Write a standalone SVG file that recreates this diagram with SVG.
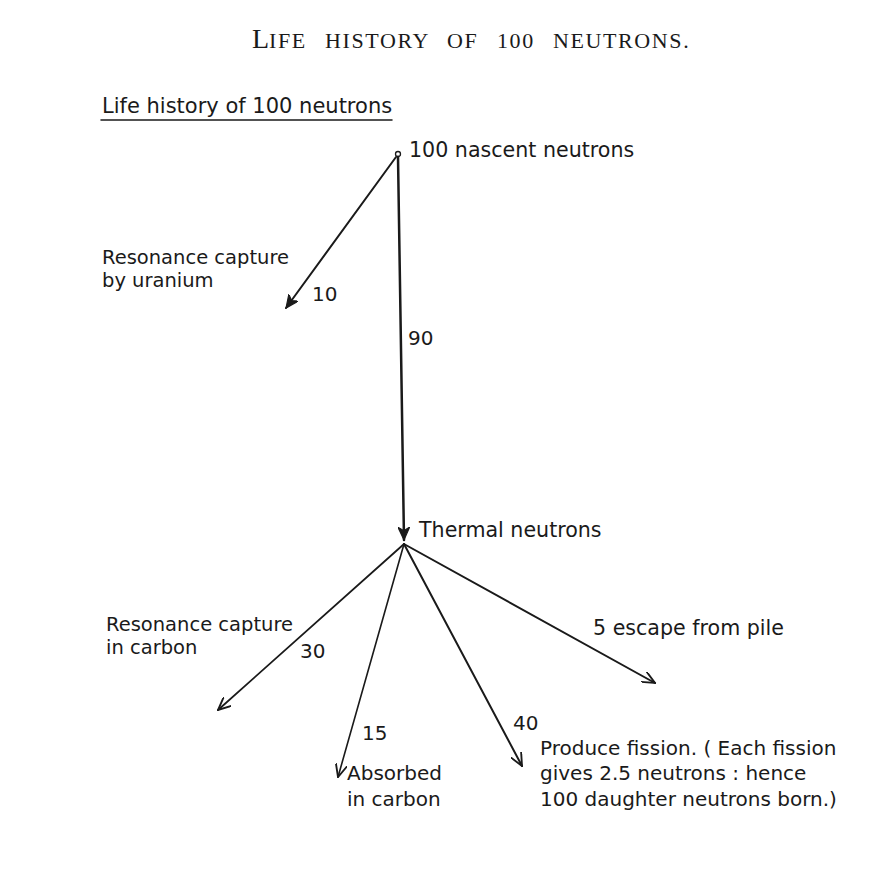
<svg xmlns="http://www.w3.org/2000/svg" width="894" height="878" viewBox="0 0 894 878">
<defs>
<style>
.t{font-family:"DejaVu Sans","Liberation Sans",sans-serif;font-size:20px;fill:#1a1a1a}
.s{font-size:19.5px}
.m{font-size:20.6px}
.sub{font-size:21px}
.title{font-family:"Liberation Serif","Times New Roman",serif;fill:#1a1a1a}
.sc{font-size:22px;letter-spacing:1.6px}
.ln{stroke:#1a1a1a;fill:none;stroke-linecap:round}
</style>
<marker id="ah" viewBox="0 0 12 10" refX="11" refY="5" markerWidth="14" markerHeight="12" markerUnits="userSpaceOnUse" orient="auto">
<path d="M0,0 L11,5 L0,10" fill="none" stroke="#1a1a1a" stroke-width="1.6"/>
</marker>
<marker id="ahs" viewBox="0 0 12 10" refX="11" refY="5" markerWidth="14" markerHeight="12" markerUnits="userSpaceOnUse" orient="auto">
<path d="M0,0 L11,5 L0,10 L3,5 Z" fill="#1a1a1a" stroke="#1a1a1a" stroke-width="1"/>
</marker>
</defs>
<rect width="894" height="878" fill="#ffffff"/>

<g id="title">
<text class="title" y="48"><tspan x="252" font-size="28">L</tspan><tspan class="sc">IFE</tspan><tspan x="325" class="sc">HISTORY</tspan><tspan x="447" class="sc">OF</tspan><tspan x="497" class="sc">100</tspan><tspan x="553" class="sc">NEUTRONS.</tspan></text>
</g>

<g id="subtitle">
<text class="t sub" x="102" y="113">Life history of 100 neutrons</text>
<line class="ln" x1="101" y1="120" x2="392" y2="120" stroke-width="1.5"/>
</g>

<g id="nascent">
<circle cx="398" cy="154" r="2.5" fill="none" stroke="#1a1a1a" stroke-width="1.3"/>
<text class="t m" x="409" y="157">100 nascent neutrons</text>
</g>

<g id="res-uranium">
<text class="t s" x="102" y="264">Resonance capture</text>
<text class="t s" x="102" y="287">by  uranium</text>
</g>

<g id="thermal">
<text class="t m" x="419" y="537">Thermal neutrons</text>
</g>

<g id="res-carbon">
<text class="t s" x="106" y="631">Resonance capture</text>
<text class="t s" x="106" y="654">in carbon</text>
</g>

<g id="absorbed">
<text class="t" x="347" y="780">Absorbed</text>
<text class="t" x="347" y="806">in carbon</text>
</g>

<g id="fission">
<text class="t" x="540" y="755">Produce fission. ( Each fission</text>
<text class="t" x="540" y="780">gives 2.5 neutrons : hence</text>
<text class="t" x="540" y="806">100 daughter neutrons born.)</text>
</g>

<g id="escape">
<text class="t m" x="593" y="635">5 escape from pile</text>
</g>

<g id="connectors">
<line class="ln" x1="396" y1="157" x2="286" y2="308" stroke-width="2" marker-end="url(#ahs)"/>
<line class="ln" x1="398" y1="157" x2="404" y2="540" stroke-width="2.5" marker-end="url(#ahs)"/>
<line class="ln" x1="404" y1="544" x2="218" y2="710" stroke-width="1.8" marker-end="url(#ah)"/>
<line class="ln" x1="404" y1="544" x2="338" y2="777" stroke-width="1.6" marker-end="url(#ah)"/>
<line class="ln" x1="404" y1="544" x2="522" y2="766" stroke-width="2" marker-end="url(#ah)"/>
<line class="ln" x1="404" y1="544" x2="655" y2="683" stroke-width="2" marker-end="url(#ah)"/>
<text class="t" x="312" y="301">10</text>
<text class="t" x="408" y="345">90</text>
<text class="t" x="300" y="658">30</text>
<text class="t" x="362" y="740">15</text>
<text class="t" x="513" y="730">40</text>
</g>
</svg>
